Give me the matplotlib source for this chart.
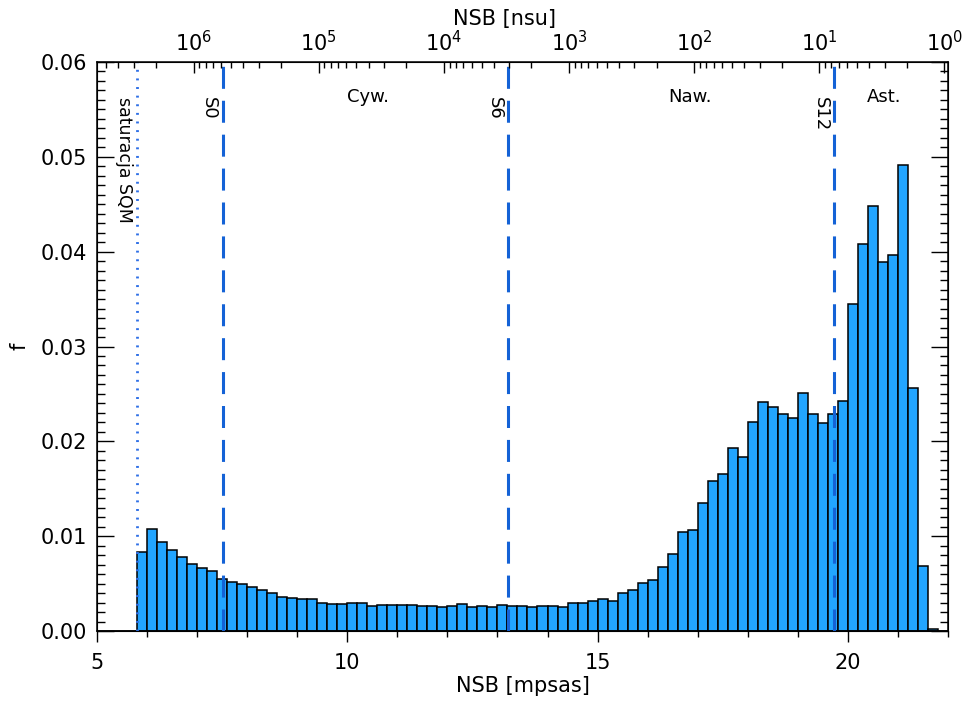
import numpy as np
import matplotlib.pyplot as plt
from matplotlib.ticker import MultipleLocator, FixedLocator

# histogram of NSB, bins of 0.2 mpsas starting at SQM saturation
bin_start = 5.8
bin_width = 0.2
f_values = np.array([
    0.0083, 0.0108, 0.0094, 0.0085, 0.0078, 0.0071, 0.0066, 0.0063, 0.0055, 0.0052,
    0.0050, 0.0046, 0.0043, 0.0040, 0.0036, 0.0035, 0.0034, 0.0034, 0.0030, 0.0029,
    0.0028, 0.0030, 0.0030, 0.0026, 0.0027, 0.0027, 0.0027, 0.0027, 0.0026, 0.0026,
    0.0025, 0.0026, 0.0028, 0.0025, 0.0026, 0.0025, 0.0027, 0.0026, 0.0026, 0.0025,
    0.0026, 0.0026, 0.0025, 0.0030, 0.0030, 0.0032, 0.0034, 0.0032, 0.0040, 0.0043,
    0.0051, 0.0054, 0.0068, 0.0081, 0.0104, 0.0107, 0.0135, 0.0158, 0.0166, 0.0193,
    0.0184, 0.0220, 0.0242, 0.0236, 0.0229, 0.0225, 0.0251, 0.0229, 0.0219, 0.0229,
    0.0243, 0.0345, 0.0408, 0.0448, 0.0389, 0.0396, 0.0491, 0.0256, 0.0069, 0.0002,
])
bin_left = bin_start + bin_width * np.arange(len(f_values))

sqm_saturation = 5.8
s_lines = [7.51, 13.21, 19.73]
s_labels = ['S0', 'S6', 'S12']
zones = ['Cyw.', 'Naw.', 'Ast.']
zone_x = [10.41, 16.85, 20.73]

# mpsas = nsu_zero - 2.5*log10(nsu)
nsu_zero = 21.93
nsu_decades = np.arange(0, 7)

xmin, xmax = 5, 22

plt.rcParams['font.family'] = 'DejaVu Sans'
fig = plt.figure(figsize=(9.63, 7.02), dpi=100)
ax = fig.add_axes([0.1007, 0.1011, 0.8837, 0.8106])

ax.bar(bin_left, f_values, width=bin_width, align='edge', color='#22A5FF',
       edgecolor='black', linewidth=1.1, zorder=2)
ax.plot([xmin, bin_left[0]], [0, 0], color='black', lw=1.1, zorder=2)
ax.plot([bin_left[-1] + bin_width, xmax], [0, 0], color='black', lw=1.1, zorder=2)

ax.axvline(sqm_saturation, color='#2E6FE6', lw=2, linestyle=(0, (0.7, 2.4)), zorder=3)
for x in s_lines:
    ax.axvline(x, color='#1462D6', lw=2.2, dashes=(7.2, 3.9), zorder=3)

ax.text(5.54, 0.0563, 'saturacja SQM', rotation=270, ha='center', va='top', fontsize=12.5)
for x, lab in zip(s_lines, s_labels):
    ax.text(x - 0.27, 0.0563, lab, rotation=270, ha='center', va='top', fontsize=13)
for x, lab in zip(zone_x, zones):
    ax.text(x, 0.0563, lab, ha='center', va='center', fontsize=13)

ax.set_xlim(xmin, xmax)
ax.set_ylim(0, 0.06)
ax.xaxis.set_major_locator(MultipleLocator(5))
ax.xaxis.set_minor_locator(MultipleLocator(1))
ax.yaxis.set_major_locator(MultipleLocator(0.01))
ax.yaxis.set_minor_locator(MultipleLocator(0.001))
ax.yaxis.set_major_formatter(plt.FuncFormatter(lambda v, p: '%.2f' % v))
ax.tick_params(axis='x', which='major', direction='out', length=8, width=1, pad=8, labelsize=15)
ax.tick_params(axis='x', which='minor', direction='out', length=4, width=1)
ax.tick_params(axis='y', which='major', direction='in', length=12, width=1, pad=7,
               labelsize=15, right=True)
ax.tick_params(axis='y', which='minor', direction='in', length=6, width=1, right=True)
for sp in ax.spines.values():
    sp.set_linewidth(1.1)
ax.set_xlabel('NSB [mpsas]', fontsize=15, labelpad=2)
ax.set_ylabel('f', fontsize=15, labelpad=8)

# top axis in nsu
ax2 = ax.twiny()
ax2.set_xlim(xmin, xmax)
major_pos = nsu_zero - 2.5 * nsu_decades
minor_pos = [nsu_zero - 2.5 * np.log10(j * 10.0**k) for k in range(-1, 7) for j in range(2, 10)]
minor_pos = [m for m in minor_pos if xmin <= m <= xmax]
ax2.xaxis.set_major_locator(FixedLocator(major_pos))
ax2.xaxis.set_minor_locator(FixedLocator(minor_pos))
ax2.set_xticklabels(['$10^{%d}$' % k for k in nsu_decades])
ax2.tick_params(axis='x', which='major', direction='in', length=8, width=1, pad=5, labelsize=15)
ax2.tick_params(axis='x', which='minor', direction='in', length=4, width=1)
ax2.set_xlabel('NSB [nsu]', fontsize=15)
ax2.xaxis.set_label_coords(0.479, 1.065)

fig.savefig('out.png', dpi=100)
